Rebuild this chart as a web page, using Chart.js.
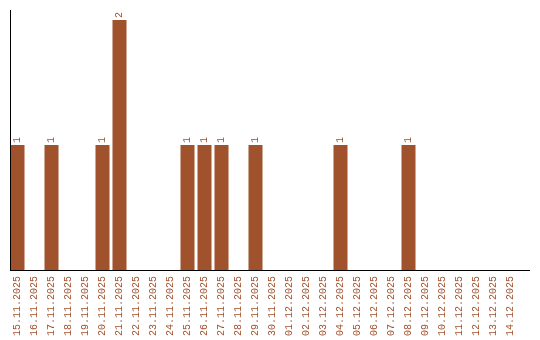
<!DOCTYPE html>
<html>
<head>
<meta charset="utf-8">
<script src="https://cdn.jsdelivr.net/npm/chart.js@4"></script>
<style>
  html, body { margin: 0; padding: 0; background: #fff; }
  #wrap { width: 540px; height: 340px; }
</style>
</head>
<body>
<div id="wrap"><canvas id="dayChart"></canvas></div>
<script>
const days = [
    '15.11.2025', '16.11.2025', '17.11.2025', '18.11.2025', '19.11.2025',
    '20.11.2025', '21.11.2025', '22.11.2025', '23.11.2025', '24.11.2025',
    '25.11.2025', '26.11.2025', '27.11.2025', '28.11.2025', '29.11.2025',
    '30.11.2025', '01.12.2025', '02.12.2025', '03.12.2025', '04.12.2025',
    '05.12.2025', '06.12.2025', '07.12.2025', '08.12.2025', '09.12.2025',
    '10.12.2025', '11.12.2025', '12.12.2025', '13.12.2025', '14.12.2025'
];
const counts = [1, 0, 1, 0, 0, 1, 2, 0, 0, 0, 1, 1, 1, 0, 1, 0, 0, 0, 0, 1, 0, 0, 0, 1, 0, 0, 0, 0, 0, 0];

const brown = '#a0522d';
const monoFont = { family: '"Liberation Mono", monospace', size: 10 };

// value labels on top of the bars, rotated like the axis labels
const barValues = {
    id: 'barValues',
    afterDatasetsDraw(chart) {
        const ctx = chart.ctx;
        const meta = chart.getDatasetMeta(0);
        ctx.save();
        ctx.fillStyle = brown;
        ctx.font = '10px "Liberation Mono", monospace';
        ctx.textAlign = 'left';
        ctx.textBaseline = 'middle';
        meta.data.forEach((bar, i) => {
            const v = counts[i];
            if (!v) return;
            ctx.save();
            ctx.translate(bar.x, bar.y - 2);
            ctx.rotate(-Math.PI / 2);
            ctx.fillText(String(v), 0, 0);
            ctx.restore();
        });
        ctx.restore();
    }
};

// plain black axis lines
const axisLines = {
    id: 'axisLines',
    afterDraw(chart) {
        const a = chart.chartArea;
        const ctx = chart.ctx;
        ctx.save();
        ctx.strokeStyle = '#000';
        ctx.lineWidth = 1;
        ctx.beginPath();
        ctx.moveTo(a.left + 1.5, a.top);
        ctx.lineTo(a.left + 1.5, a.bottom);
        ctx.moveTo(a.left + 1, a.bottom + 0.5);
        ctx.lineTo(a.right + 11, a.bottom + 0.5);
        ctx.stroke();
        ctx.restore();
    }
};

new Chart(document.getElementById('dayChart').getContext('2d'), {
    type: 'bar',
    data: {
        labels: days,
        datasets: [{
            data: counts,
            backgroundColor: brown,
            borderWidth: 0,
            barPercentage: 14 / 17,
            categoryPercentage: 1
        }]
    },
    options: {
        responsive: true,
        maintainAspectRatio: false,
        animation: false,
        layout: { padding: { top: 10, left: 9, right: 21, bottom: 0 } },
        plugins: {
            legend: { display: false },
            tooltip: { enabled: false }
        },
        scales: {
            x: {
                grid: { display: false, drawTicks: false },
                border: { display: false },
                ticks: {
                    color: brown,
                    font: monoFont,
                    autoSkip: false,
                    minRotation: 90,
                    maxRotation: 90,
                    padding: 6
                },
                afterFit(scale) { scale.height = 70; }
            },
            y: {
                display: false,
                min: 0,
                max: 2.08
            }
        }
    },
    plugins: [barValues, axisLines]
});
</script>
</body>
</html>
